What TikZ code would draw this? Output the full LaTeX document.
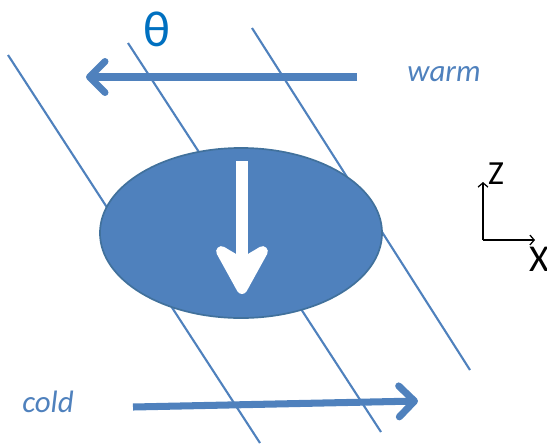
\documentclass[tikz,border=0pt]{standalone}
\usepackage{fontspec}
\setmainfont{Carlito}
\usetikzlibrary{arrows.meta, shapes.geometric, positioning}
\definecolor{flowblue}{HTML}{4F81BD}
\definecolor{rimblue}{HTML}{41719C}
\definecolor{thetablue}{HTML}{0070C0}

\tikzset{
  isoline/.style={draw=flowblue, line width=1.5pt},
  flowarrow/.style={draw=flowblue, line width=5pt, -{Straight Barb[length=11pt,width=22pt,round]}},
  sinkarrow/.style={draw=white, line width=8pt, -{Stealth[length=44pt,width=48pt,inset=14pt,round]}},
  tempword/.style={text=flowblue, font=\fontsize{22}{25}\selectfont\itshape},
  axisarrow/.style={draw=black, line width=0.9pt, -{Straight Barb[length=3pt,width=7pt]}},
}

\begin{document}
\begin{tikzpicture}[x=0.025cm, y=-0.025cm]
  \useasboundingbox (0,0) rectangle (547,443);
  % slanted isolines
  \coordinate (a1) at (8,55);    \coordinate (b1) at (260,443);
  \coordinate (a2) at (128,43);  \coordinate (b2) at (381,432);
  \coordinate (a3) at (252,28);  \coordinate (b3) at (470,370);
  \draw[isoline] (a1) -- (b1);
  \draw[isoline] (a2) -- (b2);
  \draw[isoline] (a3) -- (b3);

  % parcel
  \node[ellipse, draw=rimblue, line width=1.2pt, fill=flowblue,
        minimum width=7.05cm, minimum height=4.25cm, inner sep=0pt] (parcel) at (241,233) {};
  \coordinate (sinktop) at (242,161);
  \coordinate (sinktip) at (242,294);
  \draw[sinkarrow] (sinktop) -- (sinktip);

  % warm / cold flow
  \coordinate (warmstart) at (357,77);
  \coordinate (warmend) at (86,77);
  \draw[flowarrow] (warmstart) -- (warmend);
  \node[tempword] (warm) at (444,74) {warm};
  \coordinate (coldstart) at (133,407);
  \coordinate (coldend) at (418,401);
  \draw[flowarrow] (coldstart) -- (coldend);
  \node[tempword] (cold) at (48,402) {cold};
  \node[text=thetablue, font=\fontsize{36}{40}\selectfont] (theta) at (157,29) {θ};

  % axes
  \coordinate (origin) at (483,240);
  \coordinate (zend) at (483,182);
  \coordinate (xend) at (535,240);
  \draw[axisarrow] (origin) -- (zend);
  \draw[axisarrow] (origin) -- (xend);
  \node[font=\fontsize{24}{27}\selectfont] (zlabel) at (496,174) {Z};
  \node[font=\fontsize{27}{30}\selectfont] (xlabel) at (539,259) {X};
\end{tikzpicture}
\end{document}
